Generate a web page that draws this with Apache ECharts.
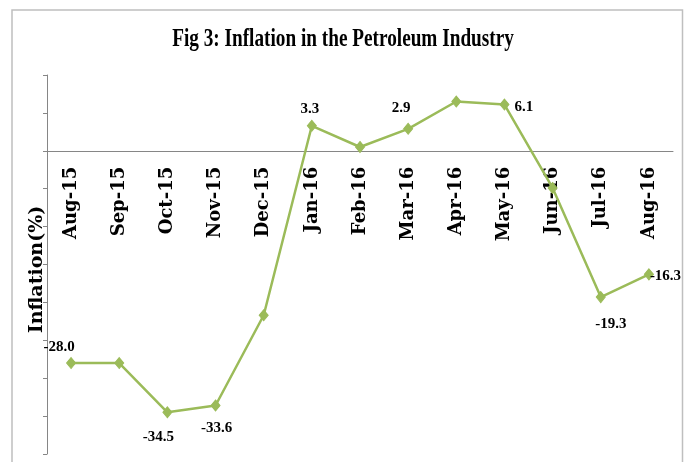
<!DOCTYPE html>
<html>
<head>
<meta charset="utf-8">
<script src="https://cdn.jsdelivr.net/npm/echarts@6/dist/echarts.min.js"></script>
<style>
  html, body { margin: 0; padding: 0; background: #fff; }
  #chart { width: 687px; height: 462px; }
</style>
</head>
<body>
<div id="chart"></div>
<script>
// ---- data ----
const categories = ['Aug-15','Sep-15','Oct-15','Nov-15','Dec-15','Jan-16','Feb-16','Mar-16','Apr-16','May-16','Jun-16','Jul-16','Aug-16'];
const inflation = [-28.0, -28.0, -34.5, -33.6, -21.7, 3.3, 0.5, 2.9, 6.5, 6.1, -4.9, -19.3, -16.3];
const titleText = 'Fig 3: Inflation in the Petroleum Industry';
const yAxisName = 'Inflation(%)';
const yMin = -40, yMax = 10, yStep = 5;

// ---- layout ----
const W = 687, H = 462;
const gridTop = 75, gridBottom = 8, gridLeft = 47, gridRight = 14;
const plotH = H - gridTop - gridBottom;
// move the category axis (line + labels) up to the zero line
const xAxisOffset = -plotH * (0 - yMin) / (yMax - yMin);

// ---- label placement (style only) ----
const labelPlacement = {
  0: { position: 'top', offset: [-12, 3] },
  2: { position: 'bottom', offset: [-9, 6] },
  3: { position: 'bottom', offset: [1, 4] },
  5: { position: 'top', offset: [-2, 2] },
  7: { position: 'top', offset: [-7, -2] },
  9: { position: 'right', offset: [0, 3] },
  11: { position: 'bottom', offset: [10, 8] },
  12: { position: 'right', offset: [-9, 2] }
};

const seriesData = inflation.map((v, i) => {
  const p = labelPlacement[i];
  return {
    value: v,
    label: p ? { show: true, position: p.position, offset: p.offset, distance: 5 } : { show: false }
  };
});

const chart = echarts.init(document.getElementById('chart'), null, { renderer: 'canvas' });
chart.setOption({
  backgroundColor: '#ffffff',
  animation: false,
  graphic: [
    {
      type: 'rect',
      shape: { x: 12, y: 10, width: 670.5, height: 480 },
      style: { fill: 'none', stroke: '#bfbfbf', lineWidth: 1.5 },
      silent: true, z: 0
    },
    {
      type: 'text',
      x: 343, y: 39,
      scaleX: 0.74,
      style: {
        text: titleText,
        x: 0, y: 0,
        textAlign: 'center',
        textVerticalAlign: 'middle',
        font: 'bold 26px "Liberation Serif", "Times New Roman", serif',
        fill: '#000000'
      },
      z: 10
    }
  ],
  grid: { left: gridLeft, right: gridRight, top: gridTop, bottom: gridBottom, containLabel: false, outerBoundsMode: 'none' },
  xAxis: {
    type: 'category',
    data: categories,
    boundaryGap: true,
    offset: xAxisOffset,
    axisLine: { show: true, onZero: false, lineStyle: { color: '#868686', width: 1 } },
    axisTick: { show: false },
    axisLabel: {
      interval: 0,
      rotate: 90,
      margin: 16,
      color: '#000',
      fontFamily: '"DejaVu Serif", serif',
      fontWeight: 'bold',
      fontSize: 18
    },
    splitLine: { show: false }
  },
  yAxis: {
    type: 'value',
    min: yMin, max: yMax, interval: yStep,
    name: yAxisName,
    nameLocation: 'middle',
    nameGap: 0,
    nameRotate: 90,
    nameTextStyle: {
      color: '#000',
      fontFamily: '"DejaVu Serif", serif',
      fontWeight: 'bold',
      fontSize: 19,
      padding: [0, 10, 0, 0]
    },
    axisLine: { show: true, lineStyle: { color: '#868686', width: 1 } },
    axisTick: { show: true, inside: false, length: 4, lineStyle: { color: '#868686' } },
    axisLabel: { show: false },
    splitLine: { show: false }
  },
  series: [{
    type: 'line',
    data: seriesData,
    symbol: 'diamond',
    symbolSize: [9, 11],
    showAllSymbol: true,
    lineStyle: { color: '#9bbb59', width: 2.5 },
    itemStyle: { color: '#9bbb59', borderColor: '#9bbb59', borderWidth: 1 },
    label: {
      color: '#000',
      fontFamily: '"Liberation Serif", "Times New Roman", serif',
      fontWeight: 'bold',
      fontSize: 15,
      formatter: (p) => p.value.toFixed(1)
    },
    z: 5
  }]
});
</script>
</body>
</html>
